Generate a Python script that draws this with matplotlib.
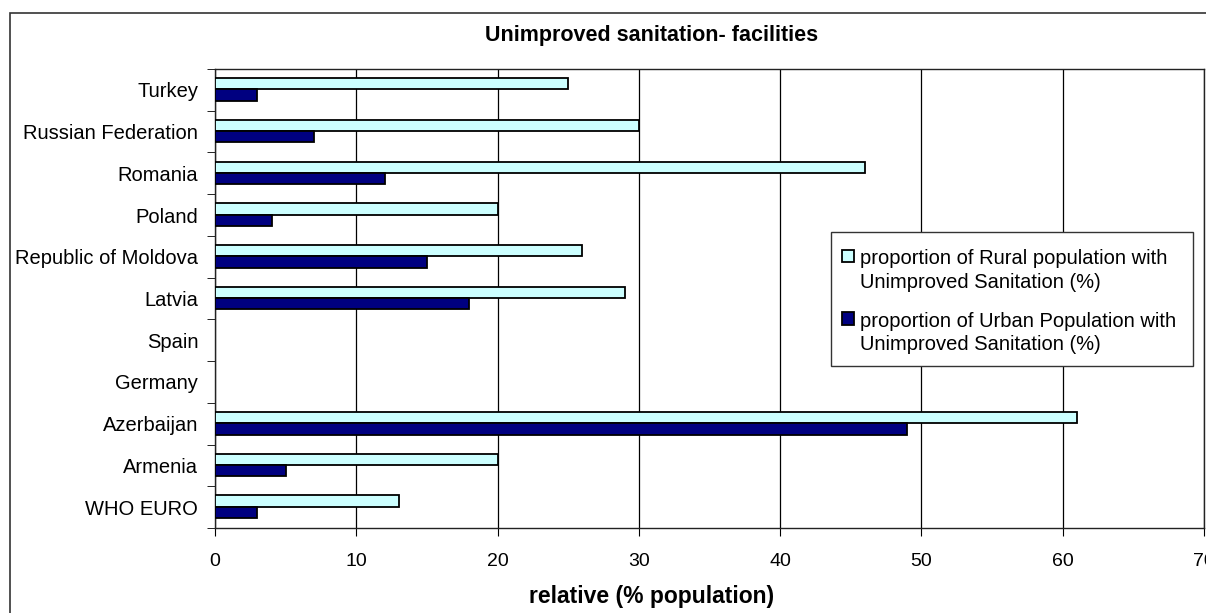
import numpy as np
import matplotlib

matplotlib.use("Agg")
import matplotlib.pyplot as plt
from matplotlib.container import BarContainer
from matplotlib.patches import Rectangle
from matplotlib.legend_handler import HandlerPatch, update_from_first_child

plt.rcParams.update({
    "font.family": ["Liberation Sans", "DejaVu Sans"],
    "font.size": 14,
    "axes.linewidth": 1.0,
})

countries = ["Turkey", "Russian Federation", "Romania", "Poland",
             "Republic of Moldova", "Latvia", "Spain", "Germany",
             "Azerbaijan", "Armenia", "WHO EURO"]
rural = [25, 30, 46, 20, 26, 29, np.nan, np.nan, 61, 20, 13]
urban = [3, 7, 12, 4, 15, 18, np.nan, np.nan, 49, 5, 3]
rural_label = "proportion of Rural population with\nUnimproved Sanitation (%)"
urban_label = "proportion of Urban Population with\nUnimproved Sanitation (%)"


def top_square(legend, orig_handle, xdescent, ydescent, width, height, fontsize):
    # small key square sitting on the first line of a two-line label
    s = 0.6 * fontsize
    return Rectangle((-xdescent, -ydescent + height - 0.5 * s), s, s)


W, H = 1206, 613
px = lambda v: v / W
py = lambda v: 1 - v / H

fig = plt.figure(figsize=(W / 100, H / 100), dpi=100)
fig.patches.append(Rectangle((px(9.5), -0.1), 1.2, 1.1 - 13.5 / H,
                             transform=fig.transFigure, fill=False,
                             edgecolor="#333333", lw=1.2))

ax = fig.add_axes([px(215), py(528), (1204 - 215) / W, (528 - 69) / H])
y = np.arange(len(countries))
ax.barh(y - 0.145, rural, height=0.27, color="#ccffff", edgecolor="black",
        lw=1.3, label=rural_label, zorder=3)
ax.barh(y + 0.125, urban, height=0.27, color="#000080", edgecolor="black",
        lw=1.3, label=urban_label, zorder=3)

ax.set_xlim(0, 70)
ax.set_ylim(len(countries) - 0.5, -0.5)
ax.set_xticks(range(0, 71, 10))
ax.set_yticks(y, countries)
ax.set_yticks(np.arange(-0.5, len(countries)), minor=True)
ax.tick_params(axis="y", which="major", length=0, pad=12, labelsize=14.5)
ax.tick_params(axis="y", which="minor", length=6, direction="out")
ax.tick_params(axis="x", length=6, direction="out", pad=12)
ax.grid(True, axis="x", color="black", lw=0.9, zorder=0)
for s in ax.spines.values():
    s.set_color("#222222")

fig.text(px(652), py(35), "Unimproved sanitation- facilities",
         ha="center", va="center", fontsize=15.5, fontweight="bold")
fig.text(px(652), py(597), "relative (% population)",
         ha="center", va="center", fontsize=16.5, fontweight="bold")

# legend box drawn on its own so the padding can differ per side
box = Rectangle((px(831), py(366)), (1193 - 831) / W, (366 - 232) / H,
                transform=fig.transFigure, facecolor="white",
                edgecolor="#333333", lw=1.0, zorder=5, clip_on=False)
ax.add_artist(box)
key = HandlerPatch(patch_func=top_square, update_func=update_from_first_child)
leg = ax.legend(loc="upper left", bbox_to_anchor=(px(831), py(238)),
                bbox_transform=fig.transFigure, frameon=False, fontsize=14.5,
                handlelength=0.6, handleheight=2.0, handletextpad=0.3,
                labelspacing=1.0, borderpad=0.55, borderaxespad=0,
                handler_map={BarContainer: key})
leg.set_zorder(6)
for t in leg.get_texts():
    t.set_linespacing(1.3)

fig.savefig("out.png", dpi=100)
